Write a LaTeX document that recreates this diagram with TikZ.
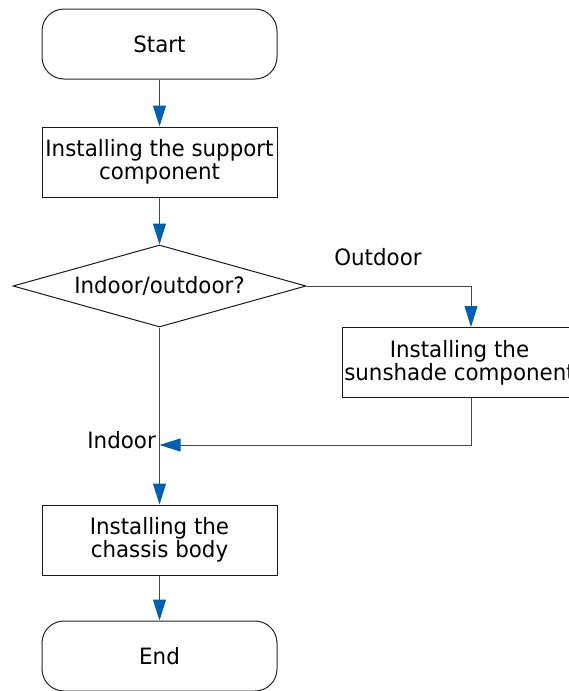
\documentclass[tikz,border=0pt]{standalone}
\usepackage{fontspec}
\setmainfont{DejaVu Sans}[FakeStretch=0.95]
\usepackage{tikz}
\usetikzlibrary{shapes.geometric,arrows.meta}
\definecolor{tipblue}{RGB}{0,96,176}
\definecolor{edgegray}{RGB}{70,70,70}

\begin{document}
\begin{tikzpicture}[x=1pt,y=1pt,
  every node/.style={font=\fontsize{22.5}{23}\selectfont,align=center,inner sep=0pt},
  term/.style={draw=black!85,line width=1pt,rounded corners=22pt,minimum width=235pt,minimum height=70pt},
  proc/.style={draw=black!90,line width=1pt,minimum width=235pt,minimum height=70pt},
  decision/.style={draw=black!90,line width=1pt,diamond,shape aspect=3.57,minimum width=293pt,minimum height=82pt},
  flow/.style={draw=edgegray,line width=1pt,-{Triangle[length=21pt,width=13pt,color=tipblue,fill=tipblue]}}]
\clip (0,0) rectangle (569,-691);
\node [term] (start) at (159.5,-44) {Start};
\node [proc] (support) at (159.5,-162) {Installing the support\\component};
\node [decision] (place) at (159.5,-286) {Indoor/outdoor?};
\node [proc] (sunshade) at (459.5,-362.5) {Installing the\\sunshade component};
\node [proc] (chassis) at (159.5,-540) {Installing the\\chassis body};
\node [term] (end) at (159.5,-656) {End};
\node (outlbl) at (378,-257) {Outdoor};
\node [anchor=east] (inlbl) at (156,-440) {Indoor};
\coordinate (merge) at (159.5,-445);
\draw [flow] (start) -- (support);
\draw [flow] (support) -- (place);
\draw [flow] (place.east) -| ([xshift=11.5pt]sunshade.north);
\draw [flow] ([xshift=11.5pt]sunshade.south) |- (merge);
\draw [flow] (place.south) -- (chassis.north);
\draw [flow] (chassis) -- (end);
\end{tikzpicture}
\end{document}
